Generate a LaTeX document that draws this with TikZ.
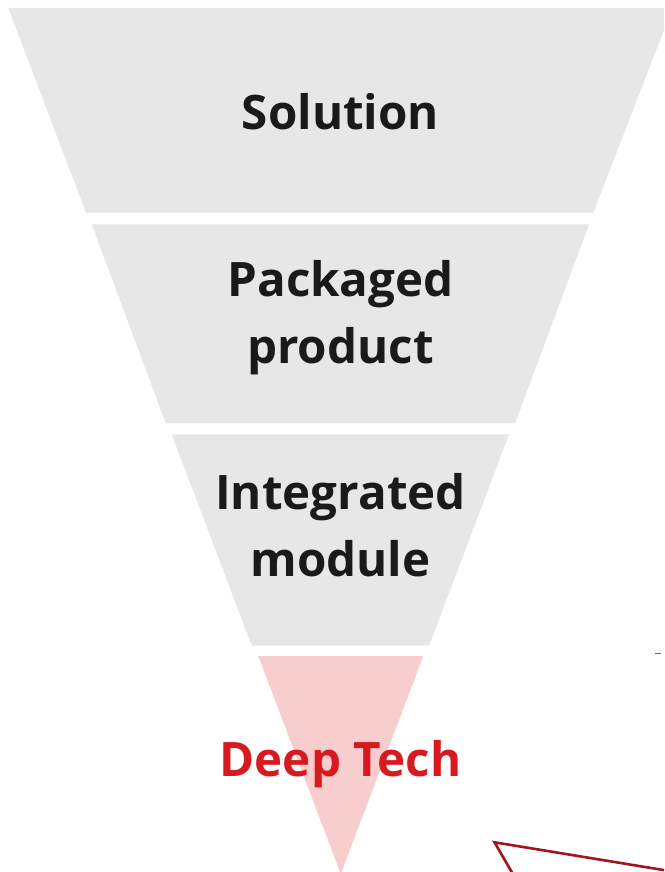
\documentclass[tikz,border=0pt]{standalone}
\usepackage{fontspec}
\newfontfamily\labelfont{Open Sans}
\definecolor{bandgray}{HTML}{E7E7E7}
\definecolor{bandpink}{HTML}{F8CDCE}
\definecolor{labelink}{HTML}{1A1A1A}
\definecolor{techred}{HTML}{D8191F}
\definecolor{calloutred}{HTML}{A0161C}
\begin{document}
\begin{tikzpicture}[x=1pt,y=-1pt,
  band/.style={fill=bandgray},
  tip/.style={fill=bandpink},
  lbl/.style={anchor=base,inner sep=0pt,text=labelink,font=\labelfont\bfseries\fontsize{47.5}{56}\selectfont},
  redlbl/.style={lbl,text=techred},
  callout/.style={draw=calloutred,line width=2.6pt,line join=miter}]
\useasboundingbox (0,0) rectangle (664,872);
\clip (0,0) rectangle (664,872);

% funnel bands, widest on top
\fill[band] (8.3,8) -- (672.5,8) -- (593.3,212.7) -- (86,212.7) -- cycle;
\fill[band] (91.7,224.3) -- (589.1,224.3) -- (515.1,423.3) -- (165.7,423.3) -- cycle;
\fill[band] (171.7,434.3) -- (509.1,434.3) -- (429.1,645.7) -- (251.7,645.7) -- cycle;
\fill[tip] (258.3,656) -- (423.3,656) -- (340.8,874) -- cycle;

% labels
\node[lbl] (solA) at (340.5,129) {Solution};
\node[lbl] (packA) at (340.5,296) {Packaged};
\node[lbl] (packB) at (340.5,363) {product};
\node[lbl] (intA) at (340.5,509) {Integrated};
\node[lbl] (intB) at (340.5,576) {module};
\node[redlbl] (deep) at (340.5,776) {Deep Tech};

% small tick at the right
\coordinate (tickL) at (655,653.3);
\coordinate (tickR) at (661,653.3);
\draw[gray!80!black,line width=1.4pt] (tickL) -- (tickR);

% callout outline entering at the bottom right
\coordinate (cA) at (521,888);
\coordinate (cV) at (494.5,842.3);
\coordinate (cB) at (700,876);
\draw[callout] (cA) -- (cV) -- (cB);
\end{tikzpicture}
\end{document}
